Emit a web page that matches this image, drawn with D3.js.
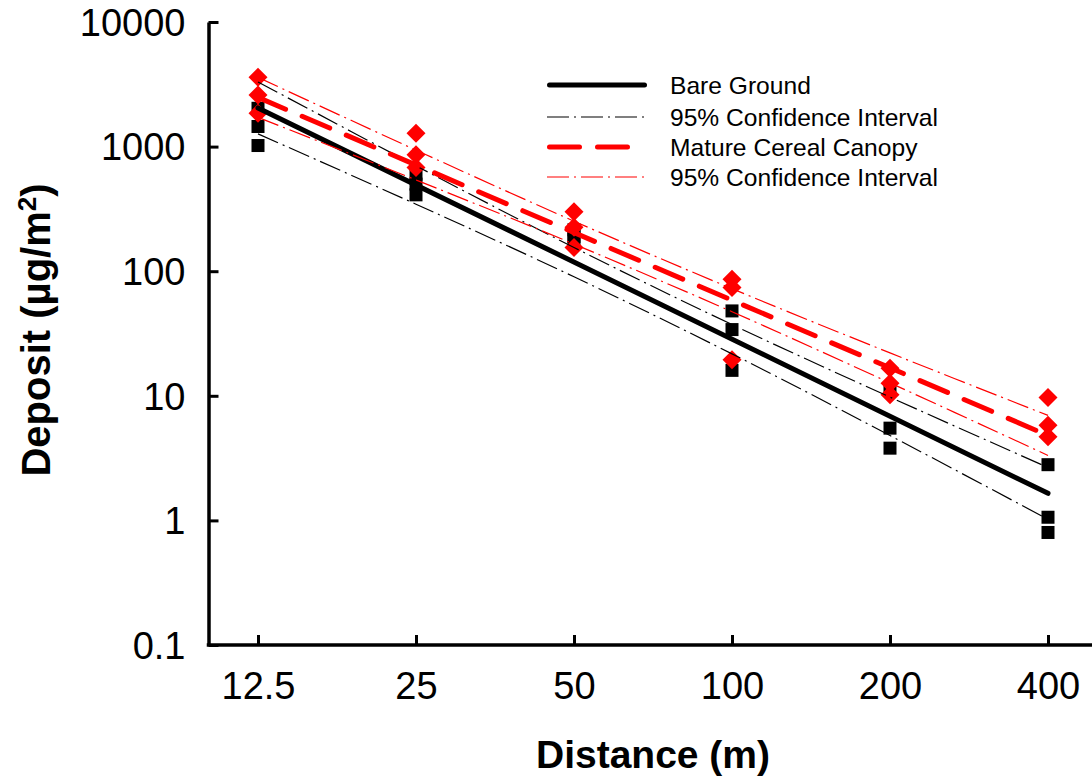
<!DOCTYPE html>
<html>
<head>
<meta charset="utf-8">
<script src="https://cdn.jsdelivr.net/npm/d3@7"></script>
<style>
  html, body { margin: 0; padding: 0; background: #fff; }
  svg { display: block; }
  text { font-family: "Liberation Sans", Arial, Helvetica, sans-serif; fill: #000; }
</style>
</head>
<body>
<svg id="chart" width="1092" height="776"></svg>
<script>
// ---------- data ----------
const distances = [12.5, 25, 50, 100, 200, 400];
const yTickValues = [0.1, 1, 10, 100, 1000, 10000];

// measured deposits (µg/m²), three replicates per distance
const bareDeposits = [
  [2030, 1450, 1020],
  [600, 500, 410],
  [215, 190, 180],
  [48, 34, 16],
  [11.5, 5.5, 3.8],
  [2.8, 1.06, 0.8]
];
const cerealDeposits = [
  [3600, 2600, 1850],
  [1280, 860, 680],
  [300, 225, 155],
  [86, 74, 19.5],
  [16.6, 12.6, 10.2],
  [9.7, 5.8, 4.7]
];

// fitted regression lines (values at 12.5 m and 400 m)
const fitDistances = [12.5, 400];
const bareFit = [2044, 1.65];
const cerealFit = [2483, 4.81];

// 95% confidence bands at each distance
const bareCIUpper = [3305, 701, 155, 37.3, 9.76, 2.66];
const bareCILower = [1265, 345, 90.2, 21.7, 4.80, 1.02];
const cerealCIUpper = [3592, 937, 252, 72.4, 22.1, 6.96];
const cerealCILower = [1715, 540, 165, 47.3, 12.7, 3.32];

const legendLabels = ["Bare Ground", "95% Confidence Interval", "Mature Cereal Canopy", "95% Confidence Interval"];

// ---------- chart ----------
const svg = d3.select("#chart");
const W = 1092, H = 776;
const plotLeft = 208.5, plotBottom = 645, plotTop = 22;

const x = d3.scaleLog().domain([12.5, 400]).range([258, 1048]);
const y = d3.scaleLog().domain([0.1, 10000]).range([plotBottom, plotTop]);

const RED = "#ff0000";

// markers
const sq = 13;
const gBare = svg.append("g");
distances.forEach((d, i) => {
  bareDeposits[i].forEach(v => {
    gBare.append("rect")
      .attr("x", x(d) - sq / 2).attr("y", y(v) - sq / 2)
      .attr("width", sq).attr("height", sq)
      .attr("fill", "#000");
  });
});
const dh = 9.5;
const diamond = (cx, cy) => `M${cx},${cy - dh}L${cx + dh},${cy}L${cx},${cy + dh}L${cx - dh},${cy}Z`;
const gCer = svg.append("g");
distances.forEach((d, i) => {
  cerealDeposits[i].forEach(v => {
    gCer.append("path").attr("d", diamond(x(d), y(v))).attr("fill", RED);
  });
});

// lines
const line = d3.line().x(p => x(p[0])).y(p => y(p[1]));
const curve = d3.line().x(p => x(p[0])).y(p => y(p[1])).curve(d3.curveCatmullRom.alpha(0.5));
const zip = (xs, ys) => xs.map((v, i) => [v, ys[i]]);
const DASHDOT = "22,5,2,5";

function ciLine(vals, color) {
  svg.append("path").attr("d", curve(zip(distances, vals)))
    .attr("fill", "none").attr("stroke", color).attr("stroke-width", 1.2)
    .attr("stroke-dasharray", DASHDOT);
}
ciLine(bareCIUpper, "#000");
ciLine(bareCILower, "#000");
svg.append("path").attr("d", line(zip(fitDistances, bareFit)))
  .attr("fill", "none").attr("stroke", "#000").attr("stroke-width", 5)
  .attr("stroke-linecap", "round");
ciLine(cerealCIUpper, RED);
ciLine(cerealCILower, RED);
svg.append("path").attr("d", line(zip(fitDistances, cerealFit)))
  .attr("fill", "none").attr("stroke", RED).attr("stroke-width", 5)
  .attr("stroke-linecap", "round").attr("stroke-dasharray", "30,18");

// axes
const yAxis = d3.axisLeft(y).tickValues(yTickValues).tickSize(-10).tickSizeOuter(0)
  .tickPadding(23).tickFormat(d => String(d));
const gy = svg.append("g").attr("transform", `translate(${plotLeft},0)`).call(yAxis);
gy.select(".domain").attr("stroke-width", 3.5);
gy.selectAll(".tick line").attr("stroke-width", 3);
gy.selectAll(".tick text").attr("font-size", 38).attr("dy", "0.35em")
  .style("font-family", "'Liberation Sans', Arial, sans-serif");

const xAxis = d3.axisBottom(x).tickValues(distances).tickSize(-10).tickSizeOuter(0)
  .tickPadding(27).tickFormat(d => String(d));
const gx = svg.append("g").attr("transform", `translate(0,${plotBottom})`).call(xAxis);
gx.select(".domain").remove();
gx.selectAll(".tick line").attr("stroke-width", 3);
gx.selectAll(".tick text").attr("font-size", 38)
  .style("font-family", "'Liberation Sans', Arial, sans-serif");
svg.append("line").attr("x1", plotLeft - 1.75).attr("x2", W).attr("y1", plotBottom).attr("y2", plotBottom)
  .attr("stroke", "#000").attr("stroke-width", 3.5);

// axis titles
svg.append("text").attr("x", 653).attr("y", 768).attr("text-anchor", "middle")
  .attr("font-size", 39).attr("font-weight", "bold").text("Distance (m)");
const yt = svg.append("text").attr("transform", "translate(50,330) rotate(-90)")
  .attr("text-anchor", "middle").attr("font-size", 40).attr("font-weight", "bold");
yt.append("tspan").text("Deposit (µg/m");
yt.append("tspan").attr("font-size", 26).attr("dy", "-14").text("2");
yt.append("tspan").attr("dy", "14").text(")");

// legend
const legY = [85, 117, 147, 177];
const lg = svg.append("g");
lg.append("line").attr("x1", 549.5).attr("x2", 644.5).attr("y1", legY[0]).attr("y2", legY[0])
  .attr("stroke", "#000").attr("stroke-width", 5).attr("stroke-linecap", "round");
lg.append("line").attr("x1", 547).attr("x2", 647).attr("y1", legY[1]).attr("y2", legY[1])
  .attr("stroke", "#000").attr("stroke-width", 1.2).attr("stroke-dasharray", DASHDOT);
lg.append("line").attr("x1", 549.5).attr("x2", 628).attr("y1", legY[2]).attr("y2", legY[2])
  .attr("stroke", RED).attr("stroke-width", 5).attr("stroke-linecap", "round")
  .attr("stroke-dasharray", "30,18");
lg.append("line").attr("x1", 547).attr("x2", 647).attr("y1", legY[3]).attr("y2", legY[3])
  .attr("stroke", RED).attr("stroke-width", 1.2).attr("stroke-dasharray", DASHDOT);
legendLabels.forEach((t, i) => {
  lg.append("text").attr("x", 670).attr("y", legY[i]).attr("dy", "0.36em")
    .attr("font-size", 24.6).text(t);
});
</script>
</body>
</html>
